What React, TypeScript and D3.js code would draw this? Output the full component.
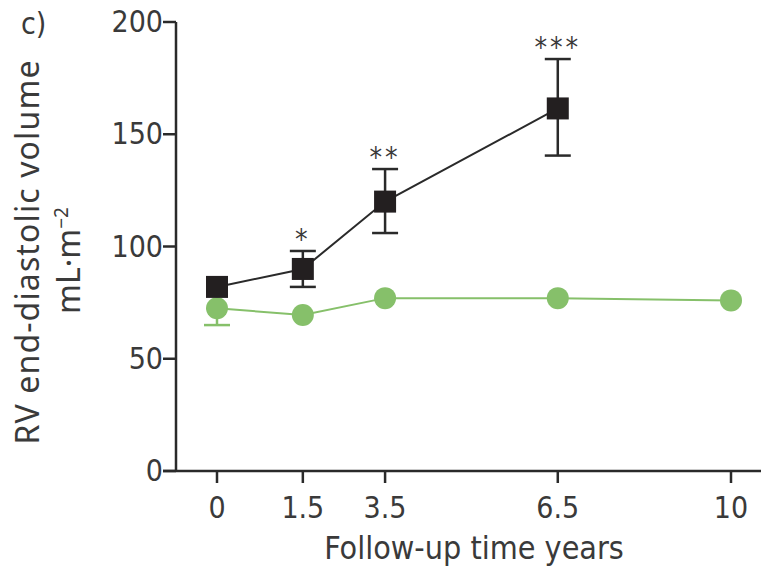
import React from 'react';
import * as d3 from 'd3';

// follow-up times (years) and the values
const years = [0, 1.5, 3.5, 6.5, 10];
const yTicks = [0, 50, 100, 150, 200];

// black squares (with error bars)
const blackYears = [0, 1.5, 3.5, 6.5];
const blackMean = [82, 90, 120, 161.5];
const blackLow = [null, 82, 106, 140.5];
const blackHigh = [null, 98, 134.5, 183.5];
const blackStars = ['', '*', '**', '***'];

// green circles
const greenYears = [0, 1.5, 3.5, 6.5, 10];
const greenMean = [72.5, 69.5, 77, 77, 76];
const greenLow = [65, null, null, null, null];

// x positions are not proportional in the original – ticks are spread unevenly
const xFrac = [0, 0.167, 0.327, 0.663, 1];

const W = 761;
const H = 566;
const margin = { left: 176, top: 22, right: 30, bottom: 95 };
const x0 = 217;
const x1 = 731;

const ink = '#2a2a2a';
const txt = '#3a3a3a';
const green = '#86c06a';
const tickFont = '"Liberation Sans Narrow", "DejaVu Sans Condensed", Roboto, sans-serif';
const labelFont = '"Noto Sans", "Open Sans", sans-serif';

const App = () => {
  const x = d3
    .scaleLinear()
    .domain(years)
    .range(xFrac.map(f => x0 + f * (x1 - x0)));
  const y = d3
    .scaleLinear()
    .domain([0, 200])
    .range([H - margin.bottom, margin.top]);

  const line = d3
    .line<[number, number]>()
    .x(d => x(d[0]))
    .y(d => y(d[1]));

  const blackPts = blackYears.map((t, i) => [t, blackMean[i]] as [number, number]);
  const greenPts = greenYears.map((t, i) => [t, greenMean[i]] as [number, number]);
  const sq = 22;
  const cap = 13;

  return (
    <svg width={W} height={H} style={{ display: 'block', position: 'absolute', left: 0, top: 0, background: '#fff' }}>
      <text x={21} y={34} fontSize={30} fill={txt} fontFamily={tickFont}>c)</text>

      {/* y axis label */}
      <g transform={`translate(39,${(y(0) + y(200)) / 2 + 6}) rotate(-90)`}>
        <text textAnchor="middle" fontSize={32} fill={txt} fontFamily={labelFont} textLength={384}>
          RV end-diastolic volume
        </text>
        <text x={-8} y={41} textAnchor="middle" fontSize={32} fill={txt} fontFamily={labelFont}>
          mL·m<tspan dy={-12} fontSize={19}>−2</tspan>
        </text>
      </g>

      {/* axes */}
      <line x1={margin.left} x2={margin.left} y1={y(200)} y2={y(0)} stroke={ink} strokeWidth={2.5} />
      <line x1={margin.left - 13} x2={W} y1={y(0)} y2={y(0)} stroke={ink} strokeWidth={2.5} />
      {yTicks.map(t => (
        <g key={t}>
          <line x1={margin.left - 13} x2={margin.left} y1={y(t)} y2={y(t)} stroke={ink} strokeWidth={2.5} />
          <text x={margin.left - 13} y={y(t) + 10} textAnchor="end" fontSize={30} fill={txt} fontFamily={tickFont}>
            {t}
          </text>
        </g>
      ))}
      {years.map(t => (
        <g key={t}>
          <line x1={x(t)} x2={x(t)} y1={y(0)} y2={y(0) + 12} stroke={ink} strokeWidth={2.5} />
          <text x={x(t)} y={y(0) + 47} textAnchor="middle" fontSize={30} fill={txt} fontFamily={tickFont}>
            {t}
          </text>
        </g>
      ))}
      <text x={474} y={559} textAnchor="middle" fontSize={32} fill={txt} fontFamily={tickFont}>
        Follow-up time years
      </text>

      {/* green series */}
      <path d={line(greenPts) || ''} fill="none" stroke={green} strokeWidth={2} />
      {greenYears.map((t, i) =>
        greenLow[i] != null ? (
          <g key={'ge' + t}>
            <line x1={x(t)} x2={x(t)} y1={y(greenMean[i])} y2={y(greenLow[i] as number)} stroke={green} strokeWidth={2.5} />
            <line x1={x(t) - cap} x2={x(t) + cap} y1={y(greenLow[i] as number)} y2={y(greenLow[i] as number)} stroke={green} strokeWidth={2.5} />
          </g>
        ) : null
      )}
      {greenPts.map(d => (
        <circle key={'g' + d[0]} cx={x(d[0])} cy={y(d[1])} r={11} fill={green} />
      ))}

      {/* black series */}
      <path d={line(blackPts) || ''} fill="none" stroke={ink} strokeWidth={2} />
      {blackYears.map((t, i) =>
        blackLow[i] != null ? (
          <g key={'be' + t} stroke={ink} strokeWidth={2.5}>
            <line x1={x(t)} x2={x(t)} y1={y(blackHigh[i] as number)} y2={y(blackLow[i] as number)} />
            <line x1={x(t) - cap} x2={x(t) + cap} y1={y(blackHigh[i] as number)} y2={y(blackHigh[i] as number)} />
            <line x1={x(t) - cap} x2={x(t) + cap} y1={y(blackLow[i] as number)} y2={y(blackLow[i] as number)} />
          </g>
        ) : null
      )}
      {blackPts.map(d => (
        <rect key={'b' + d[0]} x={x(d[0]) - sq / 2} y={y(d[1]) - sq / 2} width={sq} height={sq} fill="#231f20" />
      ))}
      {blackYears.map((t, i) =>
        blackStars[i] ? (
          <text
            key={'s' + t}
            x={x(t)}
            y={y(blackHigh[i] as number) - 2}
            textAnchor="middle"
            fontSize={28}
            letterSpacing={3}
            fill={txt}
            fontFamily={tickFont}
          >
            {blackStars[i]}
          </text>
        ) : null
      )}
    </svg>
  );
};

export default App;
